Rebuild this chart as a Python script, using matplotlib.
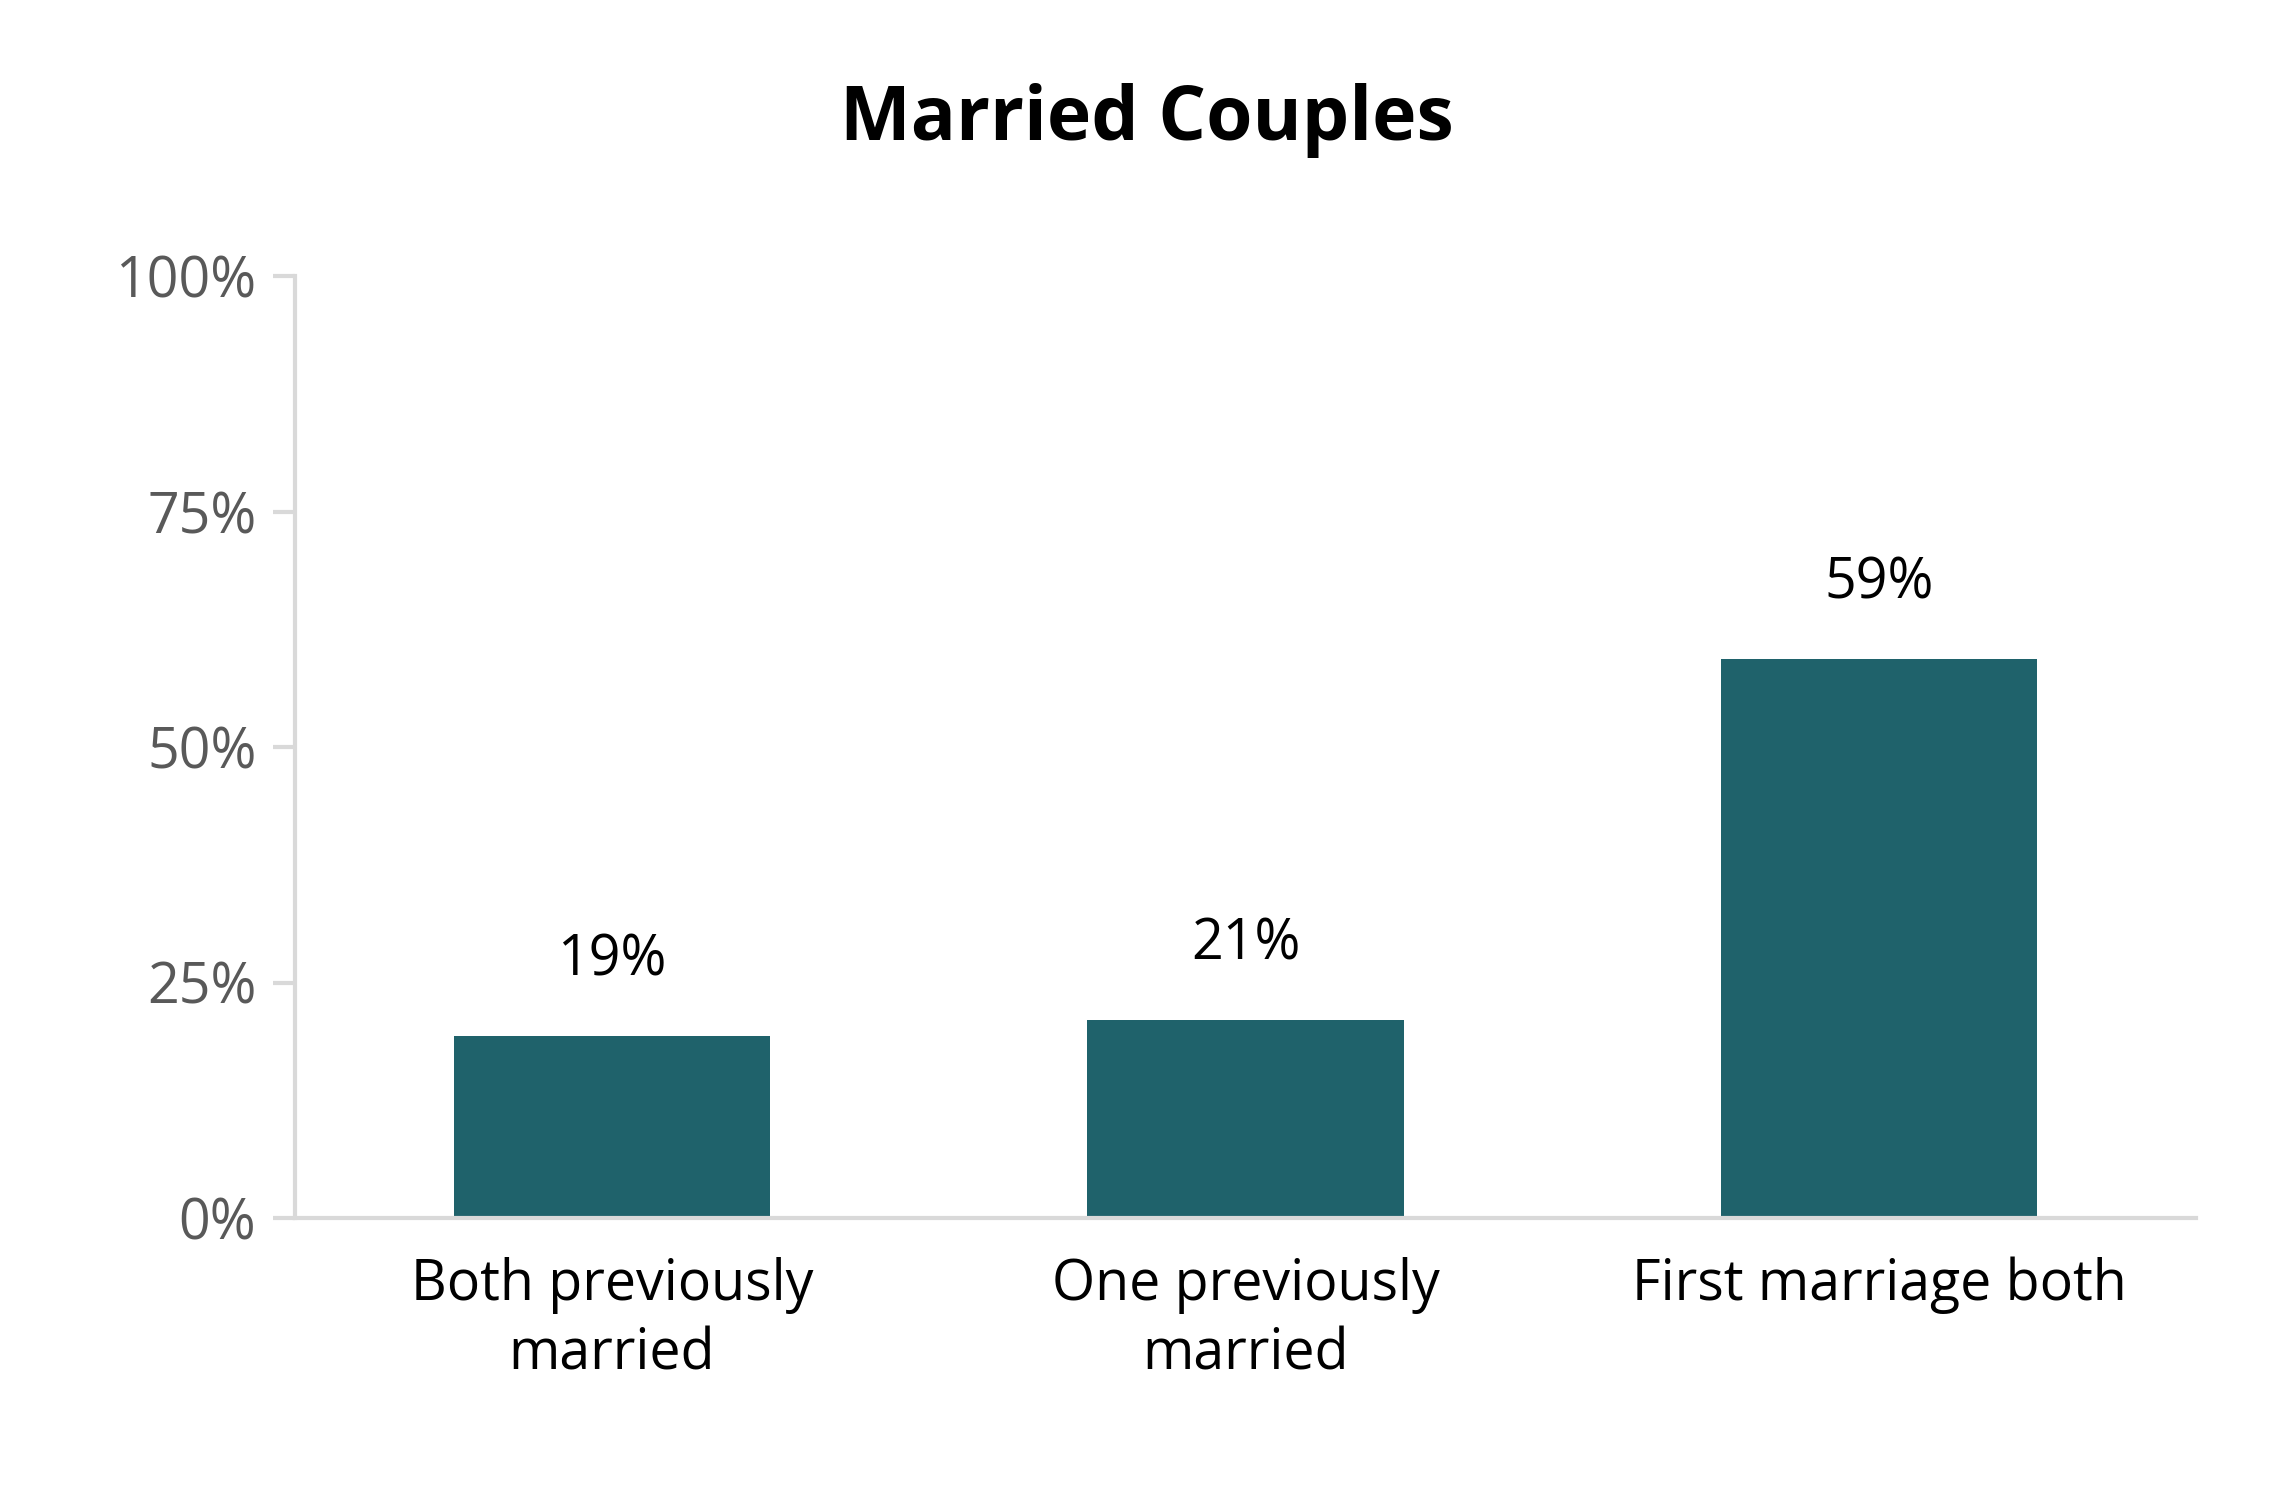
import matplotlib
matplotlib.use("Agg")
import matplotlib.pyplot as plt
from matplotlib.ticker import FixedLocator

categories = ["Both previously\nmarried", "One previously\nmarried", "First marriage both"]
values = [19.3, 21.0, 59.3]
labels = ["19%", "21%", "59%"]
yticks = [0, 25, 50, 75, 100]
ytick_labels = ["0%", "25%", "50%", "75%", "100%"]

plt.rcParams['font.family'] = ['Open Sans', 'DejaVu Sans']
fig = plt.figure(figsize=(11.4, 7.5), dpi=200)
ax = fig.add_axes([0.1295, 0.188, 0.8335, 0.628])
x = range(len(categories))
ax.bar(x, values, width=0.5, color="#1F626B")
for i, (v, l) in enumerate(zip(values, labels)):
    ax.text(i, v + 5, l, ha="center", va="bottom", fontsize=20, color="black")
ax.set_xlim(-0.5, 2.5)
ax.set_ylim(0, 100)
ax.set_xticks(list(x))
ax.set_xticklabels(categories, fontsize=20, color="black", linespacing=1.3)
ax.yaxis.set_major_locator(FixedLocator(yticks))
ax.set_yticklabels(ytick_labels, fontsize=20, color="#595959")
for s in ["top", "right"]:
    ax.spines[s].set_visible(False)
for s in ["left", "bottom"]:
    ax.spines[s].set_color("#D9D9D9")
    ax.spines[s].set_linewidth(1.5)
ax.tick_params(axis="y", length=8, width=1.5, color="#D9D9D9", pad=6)
ax.tick_params(axis="x", length=0, pad=14)
fig.text(0.503, 0.92, "Married Couples", ha="center", va="center", fontsize=27, fontweight="bold")
fig.savefig("out.png", dpi=200)
